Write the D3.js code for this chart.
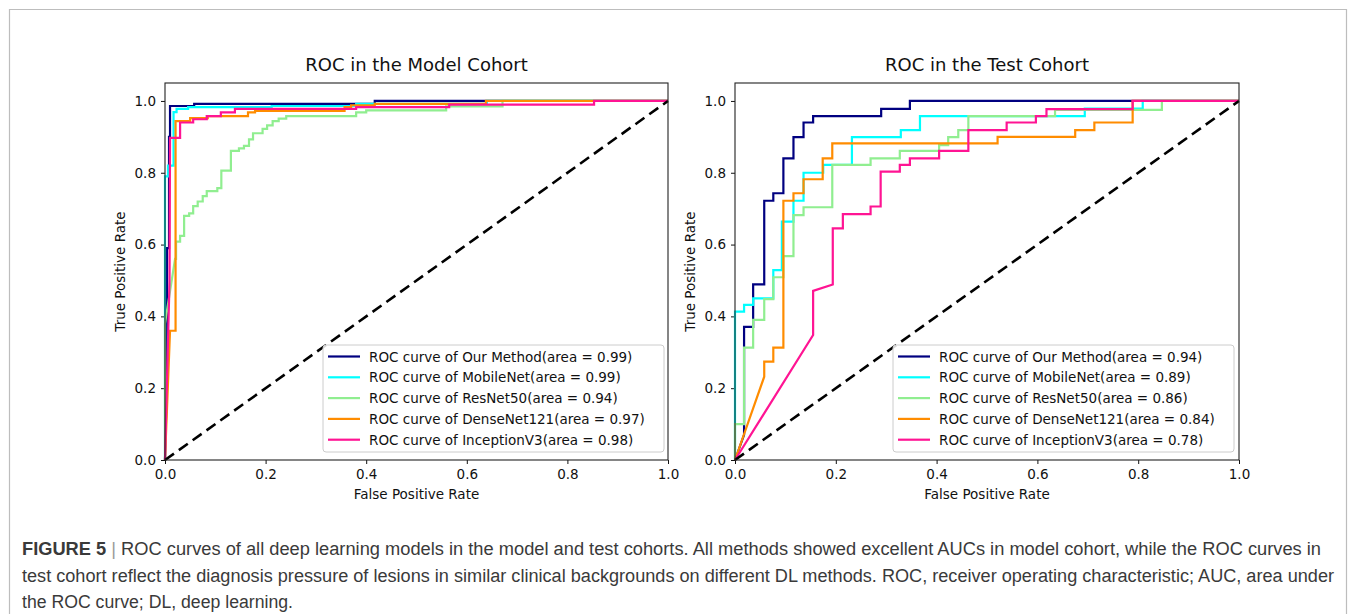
<!DOCTYPE html>
<html>
<head>
<meta charset="utf-8">
<script src="https://cdn.jsdelivr.net/npm/d3@7"></script>
<style>
  body { margin: 0; background: #fff; }
  svg text { font-family: "DejaVu Sans", sans-serif; fill: #111; }
  .tick line, .domain { stroke: #111; }
  .caption text { font-family: "Liberation Sans Narrow", "Arial Narrow", "Liberation Sans", sans-serif; fill: #3a3a3a; }
</style>
</head>
<body>
<svg width="1355" height="614"></svg>
<script>
// ---- data ----
const ticks = [0, 0.2, 0.4, 0.6, 0.8, 1.0];
const methods = ["Our Method", "MobileNet", "ResNet50", "DenseNet121", "InceptionV3"];
const modelAuc = [0.99, 0.99, 0.94, 0.97, 0.98];
const testAuc  = [0.94, 0.89, 0.86, 0.84, 0.78];
const chance = [[0, 0], [1, 1]];

// model cohort: [fpr, tpr]
const modelOurs = [[0,0],[0.004,0.25],[0.004,0.59],[0.008,0.59],[0.008,0.9],[0.01,0.9],[0.01,0.986],[0.058,0.986],[0.058,0.992],[0.417,0.992],[0.417,1],[1,1]];
const modelMobile = [[0,0],[0,0.79],[0.006,0.79],[0.006,0.82],[0.017,0.82],[0.017,0.969],[0.023,0.969],[0.023,0.978],[0.046,0.978],[0.046,0.983],[0.212,0.983],[0.212,0.986],[0.38,0.986],[0.38,0.992],[0.64,0.992],[0.64,1],[1,1]];
const modelRes = [[0,0],[0,0.38],[0.02,0.56],[0.022,0.56],[0.022,0.608],[0.03,0.608],[0.03,0.624],[0.038,0.624],[0.038,0.68],[0.048,0.68],[0.048,0.687],[0.056,0.687],[0.056,0.707],[0.065,0.707],[0.065,0.72],[0.075,0.72],[0.075,0.735],[0.083,0.735],[0.083,0.749],[0.104,0.749],[0.104,0.757],[0.112,0.757],[0.112,0.806],[0.131,0.806],[0.131,0.861],[0.147,0.861],[0.147,0.868],[0.157,0.868],[0.157,0.875],[0.167,0.875],[0.167,0.893],[0.175,0.893],[0.175,0.91],[0.194,0.91],[0.194,0.922],[0.203,0.922],[0.203,0.932],[0.214,0.932],[0.214,0.944],[0.226,0.944],[0.226,0.951],[0.241,0.951],[0.241,0.958],[0.38,0.958],[0.38,0.968],[0.4,0.968],[0.4,0.974],[0.559,0.974],[0.559,0.985],[0.671,0.985],[0.671,1],[1,1]];
const modelDense = [[0,0],[0.01,0.36],[0.021,0.36],[0.021,0.944],[0.05,0.944],[0.05,0.952],[0.085,0.952],[0.085,0.958],[0.165,0.958],[0.165,0.968],[0.179,0.968],[0.179,0.972],[0.357,0.972],[0.357,0.983],[0.37,0.983],[0.37,0.988],[0.417,0.988],[0.417,0.992],[0.638,0.992],[0.638,1],[1,1]];
const modelIncep = [[0,0],[0.009,0.5],[0.01,0.897],[0.03,0.897],[0.03,0.94],[0.056,0.94],[0.056,0.949],[0.083,0.949],[0.083,0.958],[0.111,0.958],[0.111,0.968],[0.139,0.968],[0.139,0.978],[0.38,0.978],[0.38,0.983],[0.565,0.983],[0.565,0.99],[0.853,0.99],[0.853,1],[1,1]];

// test cohort: [fpr, tpr]
const testOurs = [[0,0],[0.018,0.07],[0.018,0.371],[0.036,0.371],[0.036,0.489],[0.058,0.489],[0.058,0.722],[0.076,0.722],[0.076,0.743],[0.096,0.743],[0.096,0.84],[0.116,0.84],[0.116,0.899],[0.136,0.899],[0.136,0.94],[0.155,0.94],[0.155,0.958],[0.29,0.958],[0.29,0.978],[0.347,0.978],[0.347,1],[1,1]];
const testMobile = [[0,0],[0,0.413],[0.018,0.413],[0.018,0.432],[0.036,0.432],[0.036,0.45],[0.076,0.45],[0.076,0.529],[0.093,0.529],[0.093,0.664],[0.116,0.664],[0.116,0.722],[0.136,0.722],[0.136,0.8],[0.175,0.8],[0.175,0.822],[0.232,0.822],[0.232,0.899],[0.329,0.899],[0.329,0.919],[0.367,0.919],[0.367,0.958],[0.694,0.958],[0.694,0.979],[0.809,0.979],[0.809,1],[1,1]];
const testRes = [[0,0],[0,0.1],[0.018,0.1],[0.018,0.313],[0.036,0.313],[0.036,0.39],[0.058,0.39],[0.058,0.448],[0.076,0.448],[0.076,0.509],[0.096,0.509],[0.096,0.568],[0.116,0.568],[0.116,0.682],[0.136,0.682],[0.136,0.704],[0.193,0.704],[0.193,0.822],[0.269,0.822],[0.269,0.84],[0.327,0.84],[0.327,0.861],[0.405,0.861],[0.405,0.877],[0.423,0.877],[0.423,0.899],[0.443,0.899],[0.443,0.919],[0.463,0.919],[0.463,0.958],[0.635,0.958],[0.635,0.975],[0.847,0.975],[0.847,1],[1,1]];
const testDense = [[0,0],[0.058,0.232],[0.058,0.274],[0.076,0.274],[0.076,0.313],[0.096,0.313],[0.096,0.722],[0.116,0.722],[0.116,0.743],[0.136,0.743],[0.136,0.782],[0.174,0.782],[0.174,0.84],[0.193,0.84],[0.193,0.882],[0.521,0.882],[0.521,0.9],[0.675,0.9],[0.675,0.919],[0.713,0.919],[0.713,0.94],[0.789,0.94],[0.789,1],[1,1]];
const testIncep = [[0,0],[0.155,0.348],[0.155,0.471],[0.194,0.489],[0.194,0.645],[0.214,0.645],[0.214,0.685],[0.269,0.685],[0.269,0.706],[0.289,0.706],[0.289,0.803],[0.327,0.803],[0.327,0.822],[0.347,0.822],[0.347,0.84],[0.405,0.84],[0.405,0.861],[0.463,0.861],[0.463,0.919],[0.539,0.919],[0.539,0.94],[0.597,0.94],[0.597,0.958],[0.618,0.958],[0.618,0.977],[0.789,0.977],[0.789,1],[1,1]];

const captionLines = [
  "ROC curves of all deep learning models in the model and test cohorts. All methods showed excellent AUCs in model cohort, while the ROC curves in",
  "test cohort reflect the diagnosis pressure of lesions in similar clinical backgrounds on different DL methods. ROC, receiver operating characteristic; AUC, area under",
  "the ROC curve; DL, deep learning."
];

// ---- styles / layout ----
const colors = ["#000080", "#00ffff", "#90ee90", "#ff8c00", "#ff1493"];
const plotTop = 83, plotBottom = 460;

const svg = d3.select("svg");

// figure frame
svg.append("path")
    .attr("d", "M9.5,614 L9.5,9.5 L1346.5,9.5 L1346.5,614")
    .attr("fill", "none").attr("stroke", "#bdbdbd").attr("stroke-width", 1.2);

function panel(left, right, title, curves, auc, legendX) {
    const x = d3.scaleLinear().domain([0, 1]).range([left, right]);
    const y = d3.scaleLinear().domain([0, 1.05]).range([plotBottom, plotTop]);
    const g = svg.append("g");

    const axisX = d3.axisBottom(x).tickValues(ticks).tickFormat(d3.format(".1f"))
            .tickSize(4).tickPadding(5).tickSizeOuter(0);
    const axisY = d3.axisLeft(y).tickValues(ticks).tickFormat(d3.format(".1f"))
            .tickSize(4).tickPadding(5).tickSizeOuter(0);

    g.append("g").attr("transform", `translate(0,${plotBottom})`).call(axisX)
        .call(s => s.select(".domain").remove())
        .selectAll("text").style("font-size", "13.5px").style("font-family", "DejaVu Sans");
    g.append("g").attr("transform", `translate(${left},0)`).call(axisY)
        .call(s => s.select(".domain").remove())
        .selectAll("text").style("font-size", "13.5px").style("font-family", "DejaVu Sans");

    const line = d3.line().x(d => x(d[0])).y(d => y(d[1]));

    curves.forEach((c, i) => {
        g.append("path").datum(c)
            .attr("d", line)
            .attr("fill", "none")
            .attr("stroke", colors[i])
            .attr("stroke-width", 2.2)
            .attr("stroke-linejoin", "miter");
    });

    g.append("path").datum(chance)
        .attr("d", line)
        .attr("fill", "none")
        .attr("stroke", "#000")
        .attr("stroke-width", 2.6)
        .attr("stroke-dasharray", "11,6");

    g.append("rect")
        .attr("x", left).attr("y", plotTop)
        .attr("width", right - left).attr("height", plotBottom - plotTop)
        .attr("fill", "none").attr("stroke", "#222").attr("stroke-width", 1.1);

    g.append("text").text(title)
        .attr("x", (left + right) / 2).attr("y", 71)
        .attr("text-anchor", "middle").style("font-size", "18px");
    g.append("text").text("False Positive Rate")
        .attr("x", (left + right) / 2).attr("y", 499)
        .attr("text-anchor", "middle").style("font-size", "13.5px");
    g.append("text").text("True Positive Rate")
        .attr("transform", `translate(${left - 40},${(plotTop + plotBottom) / 2}) rotate(-90)`)
        .attr("text-anchor", "middle").style("font-size", "13.5px");

    // legend
    const lg = g.append("g").attr("transform", `translate(${legendX},345)`);
    lg.append("rect")
        .attr("width", 341).attr("height", 107)
        .attr("rx", 3).attr("ry", 3)
        .attr("fill", "#fff").attr("fill-opacity", 0.85)
        .attr("stroke", "#cccccc");
    methods.forEach((m, i) => {
        const cy = 11.5 + i * 20.8;
        lg.append("line")
            .attr("x1", 5).attr("x2", 37).attr("y1", cy).attr("y2", cy)
            .attr("stroke", colors[i]).attr("stroke-width", 2.2);
        lg.append("text")
            .text(`ROC curve of ${m}(area = ${auc[i].toFixed(2)})`)
            .attr("x", 46).attr("y", cy + 5)
            .style("font-size", "13.5px");
    });
}

panel(165, 668, "ROC in the Model Cohort",
      [modelOurs, modelMobile, modelRes, modelDense, modelIncep], modelAuc, 323);
panel(735, 1239, "ROC in the Test Cohort",
      [testOurs, testMobile, testRes, testDense, testIncep], testAuc, 893);

// caption (narrow face is not installed, so fit to the original line widths)
const cap = svg.append("g").attr("class", "caption");
const capWidths = [1299, 1312, 271];
const first = cap.append("text").attr("x", 22).attr("y", 555).style("font-size", "18px")
        .attr("textLength", capWidths[0]).attr("lengthAdjust", "spacingAndGlyphs");
first.append("tspan").text("FIGURE 5").style("font-weight", "bold");
first.append("tspan").text(" | ").style("fill", "#999");
first.append("tspan").text(captionLines[0]);
cap.append("text").attr("x", 22).attr("y", 582).style("font-size", "18px")
        .attr("textLength", capWidths[1]).attr("lengthAdjust", "spacingAndGlyphs")
        .text(captionLines[1]);
cap.append("text").attr("x", 22).attr("y", 608).style("font-size", "18px")
        .attr("textLength", capWidths[2]).attr("lengthAdjust", "spacingAndGlyphs")
        .text(captionLines[2]);
</script>
</body>
</html>
